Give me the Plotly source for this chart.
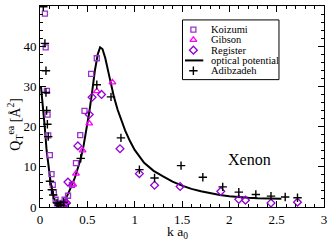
import plotly.graph_objects as go

# ---- data ----
koizumi_x = [0.052, 0.06, 0.073, 0.08, 0.087, 0.104, 0.122, 0.135, 0.146, 0.165, 0.18, 0.20, 0.22, 0.24, 0.26, 0.296, 0.337, 0.38, 0.425, 0.47, 0.54, 0.60]
koizumi_y = [48.1, 39.7, 28.9, 23.0, 17.8, 12.9, 8.2, 5.5, 3.7, 1.8, 0.9, 0.4, 0.5, 1.0, 1.8, 2.8, 5.5, 10.9, 17.9, 23.9, 33.1, 37.0]

gibson_x = [0.22, 0.245, 0.28, 0.35, 0.38, 0.45, 0.52, 0.60, 0.765]
gibson_y = [0.2, 0.4, 1.2, 5.6, 8.3, 14.1, 20.8, 28.8, 31.0]

register_x = [0.22, 0.25, 0.28, 0.295, 0.40, 0.52, 0.55, 0.65, 0.845, 1.05, 1.21, 1.48, 1.91, 2.10, 2.17, 2.44, 2.72]
register_y = [0.3, 0.6, 1.0, 6.2, 15.2, 23.0, 27.3, 28.0, 14.5, 8.3, 5.4, 5.1, 3.9, 1.9, 1.7, 1.0, 1.2]

optical_x = [0.01, 0.03, 0.05, 0.07, 0.09, 0.11, 0.13, 0.15, 0.17, 0.19, 0.21, 0.23, 0.25, 0.28, 0.31, 0.34, 0.37, 0.40, 0.43, 0.46, 0.49, 0.52, 0.55, 0.58, 0.61, 0.635, 0.66, 0.69, 0.72, 0.75, 0.78, 0.82, 0.86, 0.90, 0.95, 1.00, 1.10, 1.20, 1.30, 1.40, 1.50, 1.60, 1.70, 1.80, 1.90, 2.00, 2.10, 2.20, 2.30, 2.40, 2.55]
optical_y = [30.0, 25.5, 20.0, 14.0, 10.0, 6.6, 3.8, 1.8, 0.6, 0.05, 0.1, 0.5, 1.0, 2.4, 3.9, 5.6, 7.4, 9.5, 12.0, 15.2, 19.0, 23.5, 28.5, 34.0, 38.0, 39.7, 39.3, 37.0, 33.8, 30.5, 27.5, 24.2, 21.4, 19.0, 16.4, 14.2, 11.0, 9.0, 7.6, 6.3, 5.3, 4.5, 3.9, 3.4, 3.0, 2.7, 2.45, 2.3, 2.2, 2.12, 2.08]

adib_x = [0.035, 0.052, 0.063, 0.063, 0.07, 0.078, 0.087, 0.105, 0.125, 0.14, 0.18, 0.20, 0.22, 0.25, 0.43, 0.60, 0.75, 0.855, 1.05, 1.21, 1.49, 1.72, 1.93, 2.10, 2.28, 2.44, 2.59, 2.72]
adib_y = [49.8, 40.7, 33.9, 28.5, 24.0, 20.6, 17.5, 6.4, 4.3, 3.0, 1.0, 0.4, 0.5, 1.2, 12.1, 30.4, 27.4, 17.2, 9.3, 7.2, 10.3, 7.4, 5.0, 3.7, 3.1, 2.7, 2.5, 2.3]

legend_names = ["Koizumi", "Gibson", "Register", "optical potential", "Adibzadeh"]
x_ticks = [0, 0.5, 1, 1.5, 2, 2.5, 3]
y_ticks = [0, 10, 20, 30, 40, 50]

# ---- styles ----
C_KOI = "#9933cc"
C_GIB = "#ff00ff"
C_REG = "#9400d3"
FONT = "Liberation Serif, Times New Roman, serif"

# plot area in pixels
PL, PR, PT, PB = 40, 327, 5, 207


def px(x):
    return (x - PL) / (PR - PL)


def py(y):
    return (PB - y) / (PB - PT)


MK = dict(
    koi=dict(symbol="square-open", size=5, color=C_KOI, line=dict(width=1.3)),
    gib=dict(symbol="triangle-up-open", size=6, color=C_GIB, line=dict(width=1.3)),
    reg=dict(symbol="diamond-open", size=6, color=C_REG, line=dict(width=1.3)),
    adi=dict(symbol="cross-thin-open", size=6, color="black", line=dict(width=1.4, color="black")),
)

fig = go.Figure()
fig.add_trace(go.Scatter(x=optical_x, y=optical_y, mode="lines",
                         line=dict(color="black", width=2), showlegend=False))
fig.add_trace(go.Scatter(x=koizumi_x, y=koizumi_y, mode="markers", showlegend=False, marker=MK["koi"]))
fig.add_trace(go.Scatter(x=gibson_x, y=gibson_y, mode="markers", showlegend=False, marker=MK["gib"]))
fig.add_trace(go.Scatter(x=register_x, y=register_y, mode="markers", showlegend=False, marker=MK["reg"]))
fig.add_trace(go.Scatter(x=adib_x, y=adib_y, mode="markers", showlegend=False, marker=MK["adi"]))

# ---- custom legend (pixel coordinates on overlay axes) ----
L_LEFT, L_RIGHT, L_TOP, L_BOT = 184, 281.5, 19, 79
rows = [28.8, 39.1, 49.4, 59.7, 70.0]
sym_x = 195
for key, ry in zip(["koi", "gib", "reg"], rows[:3]):
    fig.add_trace(go.Scatter(x=[sym_x], y=[ry], xaxis="x2", yaxis="y2", mode="markers",
                             showlegend=False, marker=MK[key]))
fig.add_trace(go.Scatter(x=[sym_x], y=[rows[4]], xaxis="x2", yaxis="y2", mode="markers",
                         showlegend=False, marker=MK["adi"]))

shapes = [
    dict(type="rect", xref="paper", yref="paper", x0=px(L_LEFT), x1=px(L_RIGHT), y0=py(L_TOP), y1=py(L_BOT),
         line=dict(color="black", width=1), fillcolor="white", layer="below"),
    dict(type="line", xref="paper", yref="paper", x0=px(186.5), x1=px(205), y0=py(rows[3]), y1=py(rows[3]),
         line=dict(color="black", width=2)),
]
annotations = []
for name, ry in zip(legend_names, rows):
    annotations.append(dict(x=px(211), y=py(ry), xref="paper", yref="paper", text=name, showarrow=False,
                            xanchor="left", yanchor="middle", font=dict(family=FONT, size=10.5, color="black")))
annotations.append(dict(x=px(252), y=py(159), xref="paper", yref="paper", text="Xenon", showarrow=False,
                        xanchor="center", yanchor="middle", font=dict(family=FONT, size=16, color="black")))
annotations.append(dict(x=px(15), y=py(124), xref="paper", yref="paper",
                        text="Q<sub>T</sub><sup>ea</sup> [Å<sup>2</sup>]",
                        textangle=-90, showarrow=False, xanchor="center", yanchor="middle",
                        font=dict(family=FONT, size=14, color="black")))
annotations.append(dict(x=px(179), y=py(222.5), xref="paper", yref="paper", text="k a<sub>0</sub>",
                        showarrow=False, xanchor="center", yanchor="top",
                        font=dict(family=FONT, size=13.5, color="black")))

axis_common = dict(showgrid=False, zeroline=False, showline=True, linecolor="black", linewidth=1,
                   mirror="allticks", ticks="inside", ticklen=6, tickcolor="black", tickwidth=1,
                   tickfont=dict(family=FONT, size=13, color="black"))

fig.update_layout(
    width=332, height=240,
    margin=dict(l=PL, r=332 - PR, t=PT, b=240 - PB),
    paper_bgcolor="white", plot_bgcolor="white",
    font=dict(family=FONT, color="black"),
    xaxis=dict(range=[0, 3], tickvals=x_ticks, ticktext=[f"{v:g}" for v in x_ticks],
               minor=dict(ticks="inside", ticklen=3, dtick=0.1, tick0=0, tickcolor="black"),
               **axis_common),
    yaxis=dict(range=[0, 50], tickvals=y_ticks, ticktext=[str(v) for v in y_ticks],
               minor=dict(ticks="inside", ticklen=3, dtick=2, tick0=0, tickcolor="black"),
               **axis_common),
    xaxis2=dict(range=[PL, PR], overlaying="x", visible=False, fixedrange=True),
    yaxis2=dict(range=[PB, PT], overlaying="y", visible=False, fixedrange=True),
    shapes=shapes, annotations=annotations, showlegend=False,
)

fig.write_html("out.html", config={"displayModeBar": False},
               post_script="document.body.style.margin='0';document.body.style.overflow='hidden';")
